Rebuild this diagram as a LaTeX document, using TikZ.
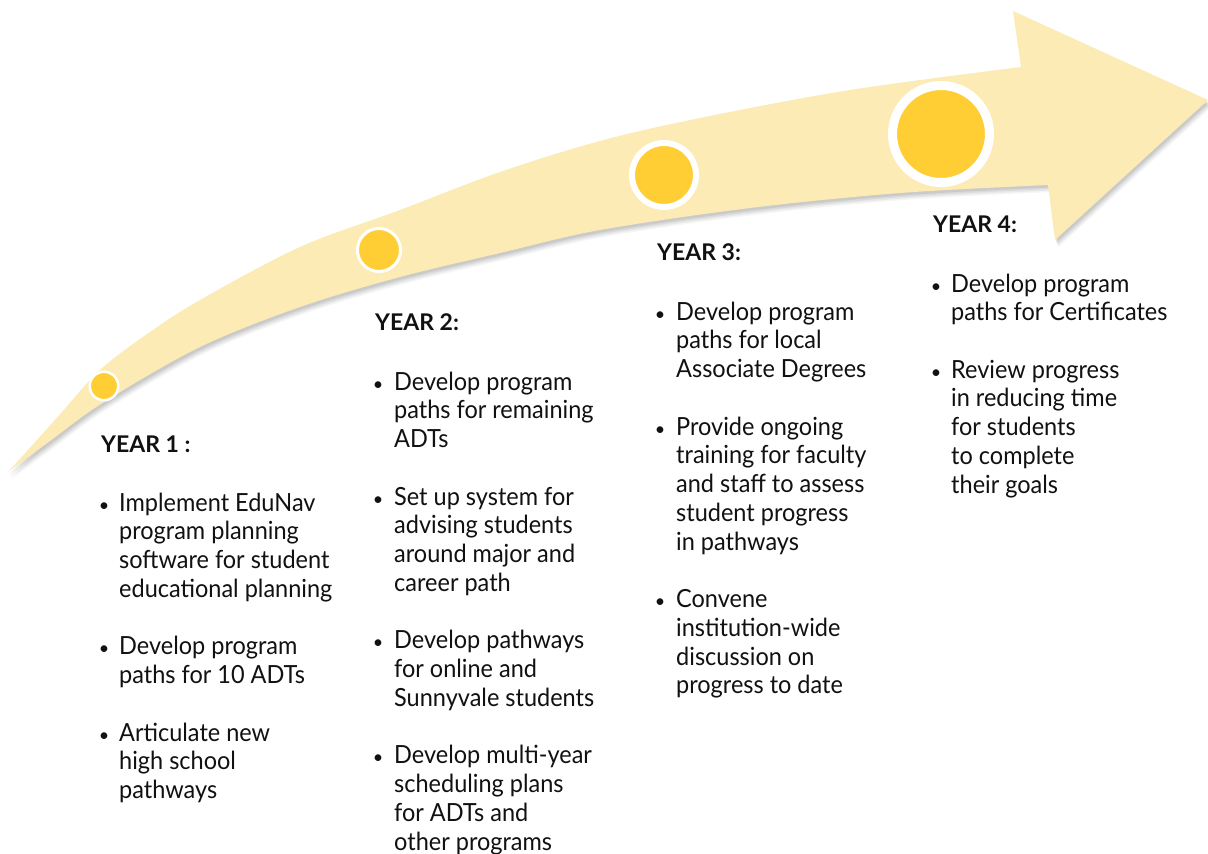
\documentclass[tikz,border=0pt]{standalone}
\usepackage{fontspec}
\setmainfont{Lato}
\newfontfamily\bodyfont[FakeStretch=0.94]{Lato}
\definecolor{band}{RGB}{252,235,181}
\definecolor{dotc}{RGB}{255,205,52}
\definecolor{ink}{RGB}{17,17,17}
\newcommand\arrowpath{plot[smooth,tension=0.55] coordinates{(8,472) (55,420) (100,370) (150,332) (200,300) (300,247) (400,210) (500,172) (600,141) (700,118) (850,90) (1021,67)}
 -- (1013,11) -- (1208,100) -- (1055,240) -- (1048,185)
 -- plot[smooth,tension=0.55] coordinates{(1048,185) (900,193) (750,208) (600,230) (500,253) (400,277) (300,307) (200,347) (104,402) (50,441) (8,472)} -- cycle}
\newcommand\lns[1]{\parbox[t]{300pt}{\raggedright #1}}
\tikzset{
 head/.style={anchor=base west, inner sep=0pt, text=ink, font=\fontsize{23}{28}\selectfont\bfseries},
 body/.style={anchor=base west, inner sep=0pt, text=ink, font=\bodyfont\fontsize{25}{28.75}\selectfont},
 bul/.style={anchor=base, inner sep=0pt, text=ink, font=\fontsize{18}{28.75}\selectfont},
 dot/.style={circle, inner sep=0pt, fill=dotc, draw=white}
}
\begin{document}
\begin{tikzpicture}[x=1pt,y=-1pt]
\useasboundingbox (0,0) rectangle (1208,854);
\fill[white] (0,0) rectangle (1208,854);
% shadow
\foreach \s/\o in {7/0.04,5.5/0.05,4/0.06,2.5/0.07}{
 \fill[black,opacity=\o,shift={(\s*0.5,\s)}] \arrowpath;
}
\fill[band] \arrowpath;
% circles
\node[dot, line width=2.5pt, minimum size=28.5pt] (d1) at (104,386) {};
\node[dot, line width=3pt, minimum size=43pt] (d2) at (379,250) {};
\node[dot, line width=6pt, minimum size=64pt] (d3) at (664,175) {};
\node[dot, line width=9pt, minimum size=97pt] (d4) at (941,134) {};
% headings
\node[head] (h1) at (101,452) {YEAR 1 :};
\node[head] (h2) at (375,330) {YEAR 2:};
\node[head] (h3) at (657,260) {YEAR 3:};
\node[head] (h4) at (933,232) {YEAR 4:};
% column 1
\node[bul] (b1a) at (104,511) {•};
\node[body] (t1a) at (119,511) {\lns{Implement EduNav\\program planning\\software for student\\educational planning}};
\node[bul] (b1b) at (104,654.75) {•};
\node[body] (t1b) at (119,654.75) {\lns{Develop program\\paths for 10 ADTs}};
\node[bul] (b1c) at (104,741) {•};
\node[body] (t1c) at (119,741) {\lns{Articulate new\\high school\\pathways}};
% column 2
\node[bul] (b2a) at (378,390) {•};
\node[body] (t2a) at (394,390) {\lns{Develop program\\paths for remaining\\ADTs}};
\node[bul] (b2b) at (378,505) {•};
\node[body] (t2b) at (394,505) {\lns{Set up system for\\advising students\\around major and\\career path}};
\node[bul] (b2c) at (378,648.75) {•};
\node[body] (t2c) at (394,648.75) {\lns{Develop pathways\\for online and\\Sunnyvale students}};
\node[bul] (b2d) at (378,763.75) {•};
\node[body] (t2d) at (394,763.75) {\lns{Develop multi-year\\scheduling plans\\for ADTs and\\other programs}};
% column 3
\node[bul] (b3a) at (660,320) {•};
\node[body] (t3a) at (676,320) {\lns{Develop program\\paths for local\\Associate Degrees}};
\node[bul] (b3b) at (660,435) {•};
\node[body] (t3b) at (676,435) {\lns{Provide ongoing\\training for faculty\\and staff to assess\\student progress\\in pathways}};
\node[bul] (b3c) at (660,607.5) {•};
\node[body] (t3c) at (676,607.5) {\lns{Convene\\institution-wide\\discussion on\\progress to date}};
% column 4
\node[bul] (b4a) at (936,292) {•};
\node[body] (t4a) at (951,292) {\lns{Develop program\\paths for Certificates}};
\node[bul] (b4b) at (936,378) {•};
\node[body] (t4b) at (951,378) {\lns{Review progress\\in reducing time\\for students\\to complete\\their goals}};
\end{tikzpicture}
\end{document}
